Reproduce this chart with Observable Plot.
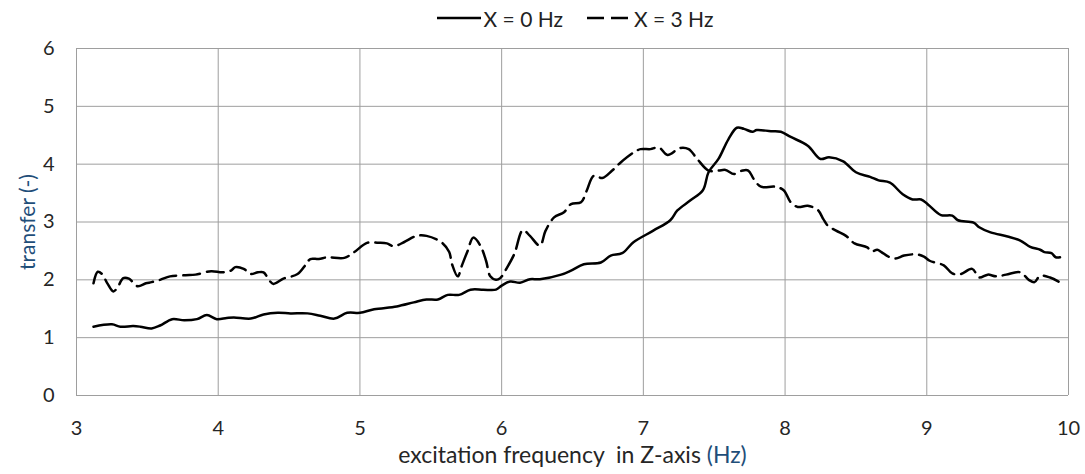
<!DOCTYPE html>
<html><head><meta charset="utf-8">
<script src="https://cdn.jsdelivr.net/npm/d3@7"></script>
<script src="https://cdn.jsdelivr.net/npm/@observablehq/plot@0.6"></script>
<style>
body{margin:0;background:#fff;font-family:Lato,"Open Sans",sans-serif;}
#legend{height:36px;display:flex;justify-content:center;align-items:center;gap:24px;font-size:21px;color:#222;padding-left:65px;box-sizing:border-box;width:1085px;}
.item{display:flex;align-items:center;gap:3px;}
</style></head><body>
<div id="legend"></div><div id="chart"></div>
<script>
const seriesNames = ["X = 0 Hz", "X = 3 Hz"];

const freq0 = [3.12,3.25,3.31,3.40,3.45,3.53,3.59,3.675,3.76,3.85,3.92,3.99,4.06,4.11,4.23,4.32,4.42,4.51,4.63,4.72,4.82,4.91,5.00,5.10,5.26,5.38,5.47,5.55,5.62,5.70,5.78,5.87,5.96,6.00,6.06,6.13,6.20,6.27,6.42,6.49,6.58,6.70,6.77,6.85,6.93,7.07,7.19,7.24,7.33,7.42,7.46,7.53,7.60,7.66,7.71,7.77,7.80,7.90,7.97,8.04,8.16,8.25,8.31,8.41,8.50,8.60,8.66,8.74,8.83,8.90,8.96,9.01,9.10,9.18,9.22,9.33,9.37,9.45,9.57,9.66,9.73,9.80,9.83,9.88,9.91,9.94];
const transfer0 = [1.19,1.23,1.19,1.20,1.19,1.16,1.21,1.32,1.30,1.32,1.39,1.32,1.34,1.35,1.33,1.40,1.43,1.42,1.42,1.38,1.33,1.43,1.43,1.49,1.54,1.61,1.66,1.66,1.74,1.74,1.83,1.83,1.83,1.90,1.97,1.95,2.01,2.01,2.09,2.16,2.27,2.30,2.42,2.46,2.65,2.85,3.03,3.20,3.37,3.55,3.86,4.09,4.43,4.63,4.61,4.56,4.59,4.57,4.56,4.47,4.32,4.09,4.12,4.05,3.86,3.78,3.72,3.68,3.48,3.39,3.39,3.30,3.12,3.11,3.03,2.99,2.91,2.82,2.75,2.68,2.57,2.52,2.48,2.46,2.39,2.39];

const freq3 = [3.12,3.15,3.18,3.22,3.26,3.29,3.33,3.37,3.43,3.49,3.53,3.59,3.66,3.77,3.84,3.95,4.03,4.09,4.12,4.18,4.23,4.28,4.32,4.36,4.39,4.46,4.56,4.62,4.65,4.71,4.77,4.89,4.96,5.05,5.13,5.19,5.24,5.31,5.40,5.47,5.58,5.63,5.65,5.69,5.72,5.76,5.80,5.85,5.89,5.92,5.96,5.99,6.04,6.09,6.15,6.20,6.27,6.31,6.37,6.44,6.49,6.56,6.60,6.65,6.71,6.78,6.84,6.93,6.98,7.05,7.11,7.17,7.26,7.32,7.38,7.46,7.53,7.58,7.64,7.70,7.74,7.78,7.83,7.93,7.99,8.04,8.09,8.16,8.23,8.27,8.30,8.36,8.43,8.49,8.58,8.61,8.65,8.68,8.73,8.78,8.84,8.93,8.98,9.02,9.12,9.18,9.24,9.32,9.37,9.43,9.49,9.56,9.66,9.72,9.76,9.80,9.87,9.93];
const transfer3 = [1.94,2.14,2.10,1.93,1.80,1.87,2.03,2.02,1.89,1.94,1.96,2.00,2.06,2.08,2.09,2.15,2.13,2.16,2.22,2.19,2.10,2.13,2.13,1.99,1.93,2.02,2.10,2.27,2.36,2.36,2.39,2.38,2.48,2.64,2.64,2.63,2.58,2.65,2.76,2.76,2.64,2.48,2.27,2.06,2.25,2.50,2.73,2.59,2.33,2.06,2.00,2.03,2.22,2.45,2.86,2.76,2.59,2.85,3.08,3.17,3.31,3.34,3.54,3.80,3.76,3.89,4.03,4.20,4.26,4.26,4.29,4.16,4.28,4.26,4.09,3.89,3.89,3.90,3.83,3.89,3.89,3.74,3.61,3.61,3.55,3.34,3.26,3.28,3.21,3.05,2.94,2.85,2.76,2.63,2.56,2.49,2.52,2.48,2.40,2.37,2.42,2.44,2.40,2.33,2.25,2.11,2.10,2.19,2.04,2.09,2.06,2.09,2.13,2.00,1.96,2.07,2.04,1.97];

const xTicks = [3,4,5,6,7,8,9,10];
const yTicks = [0,1,2,3,4,5,6];
const xTitle = "excitation frequency\u00a0 in Z-axis ";
const xTitleUnit = "(Hz)";
const yTitle = "transfer (-)";

const dash = "17,7";
const data0 = freq0.map((f,i)=>({f, v: transfer0[i]}));
const data3 = freq3.map((f,i)=>({f, v: transfer3[i]}));

// legend
const legend = d3.select("#legend");
seriesNames.forEach((name,i)=>{
  const it = legend.append("div").attr("class","item");
  const s = it.append("svg").attr("width",44).attr("height",10);
  s.append("line").attr("x1",0).attr("x2",44).attr("y1",5).attr("y2",5)
    .attr("stroke","#000").attr("stroke-width",2.5)
    .attr("stroke-dasharray", i===1 ? dash : null);
  it.append("span").text(name);
});

const chart = Plot.plot({
  width: 1085, height: 438,
  marginLeft: 76, marginRight: 17, marginTop: 12, marginBottom: 79,
  style: {fontFamily: "Lato, 'Open Sans', sans-serif", fontSize: "20px", color: "#262626", background: "#fff"},
  x: {domain: [3,10]},
  y: {domain: [0,6]},
  marks: [
    Plot.gridX(xTicks, {stroke: "#9e9e9e", strokeOpacity: 1, strokeWidth: 1}),
    Plot.gridY(yTicks, {stroke: "#9e9e9e", strokeOpacity: 1, strokeWidth: 1}),
    Plot.axisX(xTicks, {tickSize: 0, tickPadding: 25, tickFormat: d3.format("d"), fontSize: 20, label: xTitle, labelAnchor: "center", labelArrow: "none", labelOffset: 67}),
    Plot.axisY(yTicks, {tickSize: 0, tickPadding: 22, tickFormat: d3.format("d"), fontSize: 20, label: yTitle, labelAnchor: "center", labelArrow: "none", labelOffset: 56}),
    Plot.line(data0, {x: "f", y: "v", stroke: "#000", strokeWidth: 2.5, curve: "catmull-rom"}),
    Plot.line(data3, {x: "f", y: "v", stroke: "#000", strokeWidth: 2.5, strokeDasharray: dash, curve: "catmull-rom"})
  ]
});
document.getElementById("chart").appendChild(chart);

// colour and size axis titles
d3.select(chart).selectAll("text").each(function(){
  const t = d3.select(this);
  if (t.text() === yTitle) t.attr("fill", "#1f4e79").attr("font-size", 21);
  if (t.text() === xTitle) t.attr("font-size", 23).append("tspan").attr("fill", "#1f4e79").text(xTitleUnit);
});
</script>
</body></html>
